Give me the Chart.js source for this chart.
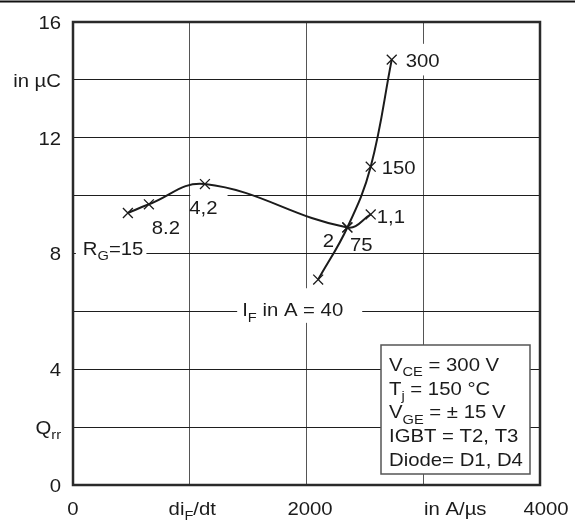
<!DOCTYPE html>
<html>
<head>
<meta charset="utf-8">
<script src="https://cdn.jsdelivr.net/npm/chart.js@4/dist/chart.umd.min.js"></script>
<style>
  html, body { margin: 0; padding: 0; background: #fff; }
  #wrap { width: 575px; height: 523px; }
</style>
</head>
<body>
<div id="wrap"><canvas id="c" width="575" height="523"></canvas></div>
<script>
// Reverse recovery charge Q_rr of the diode versus di_F/dt,
// once swept over the gate resistor R_G and once over the forward current I_F.

const rgLabels = ['15', '8.2', '4,2', '2', '1,1'];   // R_G in ohm
const rgDiDt   = [470, 650, 1130, 2350, 2550];        // di_F/dt in A/µs
const rgQrr    = [9.4, 9.7, 10.4, 8.9, 9.35];         // Q_rr in µC

const ifLabels = ['40', '75', '150', '300'];          // I_F in A
const ifDiDt   = [2100, 2350, 2550, 2730];
const ifQrr    = [7.1, 8.9, 11.0, 14.7];

const rgPrefix = 'R_{G}=';
const ifPrefix = 'I_{F} in A = ';

const xTickValues = [0, 1000, 2000, 3000, 4000];
const xTickTexts  = ['0', 'di_{F}/dt', '2000', 'in A/µs', '4000'];
const yGridValues = [0, 2, 4, 6, 8, 10, 12, 14, 16];
const yTickValues = [0, 2, 4, 8, 12, 14, 16];
const yTickTexts  = ['0', 'Q_{rr}', '4', '8', '12', 'in µC', '16'];

const conditionLines = [
  'V_{CE} = 300 V',
  'T_{j} = 150 °C',
  'V_{GE} = ± 15 V',
  'IGBT = T2, T3',
  'Diode= D1, D4'
];

// ---- styling ----
const FONT = '"Liberation Sans", Arial, Helvetica, sans-serif';
const FS = 19;      // font size
const SX = 1.07;    // slight horizontal widening of the lettering
const INK = '#1b1b1b';

// placement of the point labels, in pixels relative to each marker
// bg = white knock-out behind the text [left, right, top, bottom]
const rgLabelStyle = [
  { align: 'left',   dx: -45,  dy: 35, bg: [7, 3, 12, 12] },
  { align: 'center', dx: 17,   dy: 23 },
  { align: 'center', dx: -1.5, dy: 23, bg: [-1, 10, 9, 6] },
  { align: 'center', dx: -19,  dy: 13 },
  { align: 'left',   dx: 6,    dy: 2 }
];
const ifLabelStyle = [
  { align: 'left',   dx: -76, dy: 30, bg: [5, 19, 14.5, 6.5] },
  { align: 'center', dx: 14,  dy: 17 },
  { align: 'left',   dx: 11,  dy: 0.5 },
  { align: 'left',   dx: 14,  dy: 1, bg: [4, 4, 10, 8] }
];
const xTickDx = [0, 2.5, 3.5, 32, 6];

// ---- rich text with subscripts: 'di_{F}/dt' ----
function parseRich(s) {
  const out = [];
  const re = /_\{([^}]*)\}/g;
  let last = 0, m;
  while ((m = re.exec(s))) {
    if (m.index > last) out.push({ t: s.slice(last, m.index), sub: false });
    out.push({ t: m[1], sub: true });
    last = re.lastIndex;
  }
  if (last < s.length) out.push({ t: s.slice(last), sub: false });
  return out;
}
function segFont(sub, fs) { return (sub ? fs * 0.72 : fs) + 'px ' + FONT; }
function richWidth(ctx, s, fs) {
  let w = 0;
  for (const g of parseRich(s)) { ctx.font = segFont(g.sub, fs); w += ctx.measureText(g.t).width; }
  return w * SX;
}
// box of a text whose cap height is centred on y
function richBox(ctx, s, x, y, align, fs) {
  const w = richWidth(ctx, s, fs);
  const x0 = align === 'center' ? x - w / 2 : align === 'right' ? x - w : x;
  const ch = fs * 0.358;
  return { x0, x1: x0 + w, top: y - ch, bottom: y + ch, y };
}
function drawRich(ctx, s, x, y, align, fs) {
  const b = richBox(ctx, s, x, y, align, fs);
  const base = y + fs * 0.358;
  let cx = 0;
  ctx.save();
  ctx.translate(b.x0, 0);
  ctx.scale(SX, 1);
  ctx.fillStyle = INK;
  ctx.textAlign = 'left';
  ctx.textBaseline = 'alphabetic';
  for (const g of parseRich(s)) {
    ctx.font = segFont(g.sub, fs);
    ctx.fillText(g.t, cx, g.sub ? base + fs * 0.28 : base);
    cx += ctx.measureText(g.t).width;
  }
  ctx.restore();
  return b;
}

function pointLabels(chart) {
  const xs = chart.scales.x, ys = chart.scales.y;
  const list = [];
  rgLabels.forEach((t, i) => {
    const st = rgLabelStyle[i];
    list.push({ text: (i === 0 ? rgPrefix : '') + t, st,
      px: xs.getPixelForValue(rgDiDt[i]) + st.dx, py: ys.getPixelForValue(rgQrr[i]) + st.dy });
  });
  ifLabels.forEach((t, i) => {
    const st = ifLabelStyle[i];
    list.push({ text: (i === 0 ? ifPrefix : '') + t, st,
      px: xs.getPixelForValue(ifDiDt[i]) + st.dx, py: ys.getPixelForValue(ifQrr[i]) + st.dy });
  });
  return list;
}

function conditionBox(chart) {
  const a = chart.chartArea;
  return { x: a.right - 159, y: a.bottom - 140, w: 149, h: 129 };
}

const decor = {
  id: 'decor',
  beforeDatasetsDraw(chart) {
    const ctx = chart.ctx, a = chart.chartArea;
    ctx.save();
    // knock-outs behind labels that sit on grid lines
    ctx.fillStyle = '#fff';
    for (const L of pointLabels(chart)) {
      if (!L.st.bg) continue;
      const b = richBox(ctx, L.text, L.px, L.py, L.st.align, FS);
      const p = L.st.bg;
      ctx.fillRect(b.x0 - p[0], b.top - p[2], (b.x1 - b.x0) + p[0] + p[1], (b.bottom - b.top) + p[2] + p[3]);
    }
    // conditions box
    const cb = conditionBox(chart);
    ctx.fillRect(cb.x, cb.y, cb.w, cb.h);
    ctx.strokeStyle = '#555';
    ctx.lineWidth = 1.5;
    ctx.strokeRect(cb.x, cb.y, cb.w, cb.h);
    // plot frame
    ctx.strokeStyle = '#2a2a2a';
    ctx.lineWidth = 2.5;
    ctx.strokeRect(a.left, a.top, a.right - a.left, a.bottom - a.top);
    ctx.restore();
  },
  afterDatasetsDraw(chart) {
    const ctx = chart.ctx;
    for (const L of pointLabels(chart)) drawRich(ctx, L.text, L.px, L.py, L.st.align, FS);
    const cb = conditionBox(chart);
    conditionLines.forEach((t, i) => drawRich(ctx, t, cb.x + 8, cb.y + 19 + i * 23.75, 'left', FS));
  },
  afterDraw(chart) {
    const ctx = chart.ctx, a = chart.chartArea;
    const xs = chart.scales.x, ys = chart.scales.y;
    xTickValues.forEach((v, i) =>
      drawRich(ctx, xTickTexts[i], xs.getPixelForValue(v) + xTickDx[i], a.bottom + 23, 'center', FS));
    yTickValues.forEach((v, i) =>
      drawRich(ctx, yTickTexts[i], a.left - 12, ys.getPixelForValue(v), 'right', FS));
    // rule across the top of the sheet
    ctx.save();
    ctx.strokeStyle = '#111';
    ctx.lineWidth = 2;
    ctx.beginPath();
    ctx.moveTo(0, 1.5);
    ctx.lineTo(chart.width, 1.5);
    ctx.stroke();
    ctx.restore();
  }
};

const lineStyle = {
  borderColor: INK,
  borderWidth: 2,
  pointStyle: 'crossRot',
  pointRadius: 7,
  pointBorderWidth: 1.3,
  pointBorderColor: INK,
  pointBackgroundColor: 'rgba(0,0,0,0)',
  tension: 0.4,
  fill: false
};

new Chart(document.getElementById('c'), {
  type: 'line',
  data: {
    datasets: [
      Object.assign({ label: 'R_G', data: rgDiDt.map((x, i) => ({ x, y: rgQrr[i] })) }, lineStyle),
      Object.assign({ label: 'I_F', data: ifDiDt.map((x, i) => ({ x, y: ifQrr[i] })) }, lineStyle)
    ]
  },
  options: {
    responsive: false,
    animation: false,
    devicePixelRatio: 1,
    layout: { padding: { left: 73, right: 35, top: 22, bottom: 38 } },
    plugins: { legend: { display: false }, tooltip: { enabled: false } },
    scales: {
      x: {
        type: 'linear', min: 0, max: 4000,
        afterBuildTicks: s => { s.ticks = xTickValues.map(v => ({ value: v })); },
        ticks: { display: false },
        grid: { color: '#555', lineWidth: 1, drawTicks: false },
        border: { display: false }
      },
      y: {
        type: 'linear', min: 0, max: 16,
        afterBuildTicks: s => { s.ticks = yGridValues.map(v => ({ value: v })); },
        ticks: { display: false },
        grid: { color: '#1e1e1e', lineWidth: 1, drawTicks: false },
        border: { display: false }
      }
    }
  },
  plugins: [decor]
});
</script>
</body>
</html>
